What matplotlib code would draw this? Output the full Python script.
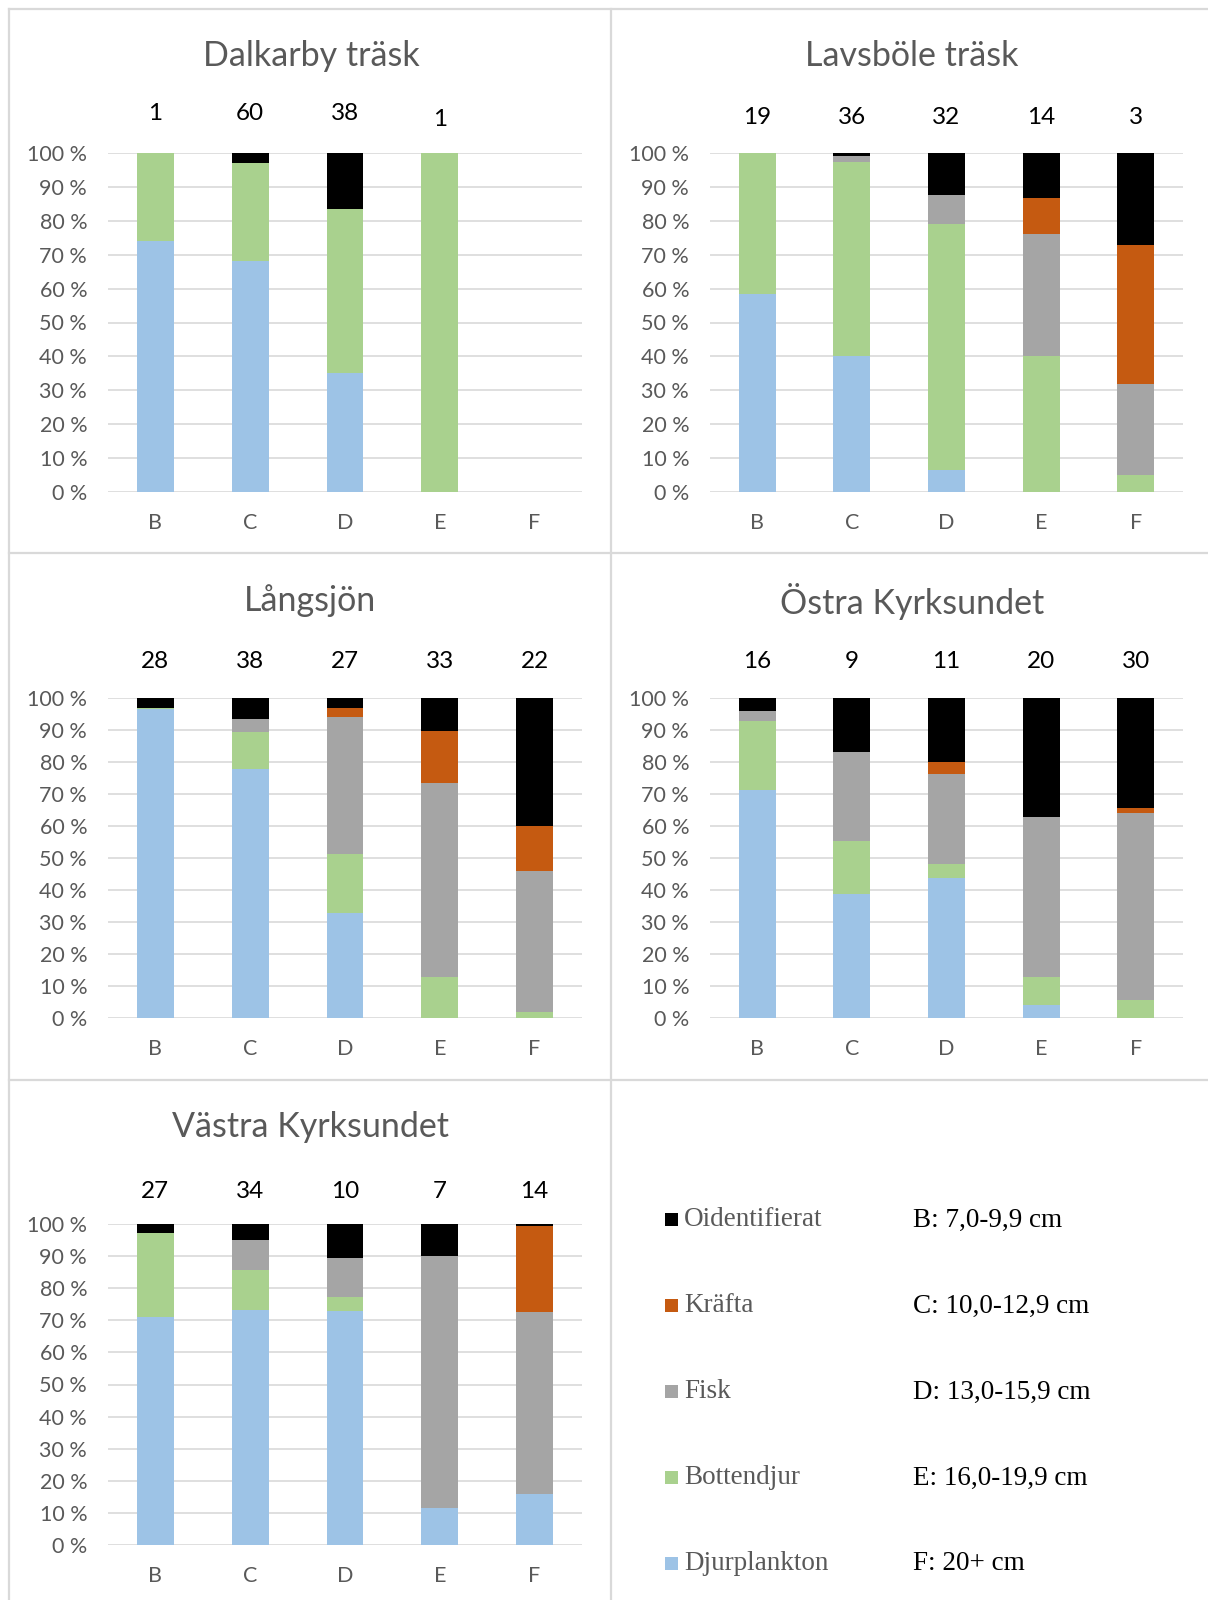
import matplotlib
matplotlib.use("Agg")
import matplotlib.pyplot as plt
from matplotlib.patches import Rectangle
from matplotlib.lines import Line2D
import matplotlib.transforms as mtransforms

# ---------------- data ----------------
categories = ['B', 'C', 'D', 'E', 'F']
series_names = ['Djurplankton', 'Bottendjur', 'Fisk', 'Kräfta', 'Oidentifierat']
legend_order = ['Oidentifierat', 'Kräfta', 'Fisk', 'Bottendjur', 'Djurplankton']
size_labels = ['B: 7,0-9,9 cm', 'C: 10,0-12,9 cm', 'D: 13,0-15,9 cm',
               'E: 16,0-19,9 cm', 'F: 20+ cm']
lake_titles = ['Dalkarby träsk', 'Lavsböle träsk', 'Långsjön',
               'Östra Kyrksundet', 'Västra Kyrksundet']

# Dalkarby träsk (% per size class)
dalkarby_djurplankton = [74.0, 68.0, 35.0, 0.0, 0.0]
dalkarby_bottendjur = [26.0, 29.0, 48.5, 100.0, 0.0]
dalkarby_fisk = [0.0, 0.0, 0.0, 0.0, 0.0]
dalkarby_krafta = [0.0, 0.0, 0.0, 0.0, 0.0]
dalkarby_oid = [0.0, 3.0, 16.5, 0.0, 0.0]
dalkarby_n = [1, 60, 38, 1, None]

# Lavsböle träsk
lavsbole_djurplankton = [58.5, 40.2, 6.5, 0.0, 0.0]
lavsbole_bottendjur = [41.5, 57.1, 72.7, 40.0, 4.9]
lavsbole_fisk = [0.0, 1.7, 8.3, 36.1, 27.1]
lavsbole_krafta = [0.0, 0.0, 0.0, 10.6, 41.0]
lavsbole_oid = [0.0, 1.0, 12.5, 13.3, 27.0]
lavsbole_n = [19, 36, 32, 14, 3]

# Långsjön
langsjon_djurplankton = [96.5, 77.9, 32.7, 0.0, 0.0]
langsjon_bottendjur = [0.4, 11.5, 18.5, 12.9, 1.9]
langsjon_fisk = [0.0, 4.1, 42.8, 60.4, 44.0]
langsjon_krafta = [0.0, 0.0, 2.9, 16.5, 14.1]
langsjon_oid = [3.1, 6.5, 3.1, 10.2, 40.0]
langsjon_n = [28, 38, 27, 33, 22]

# Östra Kyrksundet
ostra_djurplankton = [71.1, 38.6, 43.9, 4.0, 0.0]
ostra_bottendjur = [21.6, 16.7, 4.3, 8.7, 5.6]
ostra_fisk = [3.3, 27.9, 27.9, 50.0, 58.5]
ostra_krafta = [0.0, 0.0, 3.9, 0.0, 1.6]
ostra_oid = [4.0, 16.8, 20.0, 37.3, 34.3]
ostra_n = [16, 9, 11, 20, 30]

# Västra Kyrksundet
vastra_djurplankton = [71.1, 73.2, 73.0, 11.4, 15.8]
vastra_bottendjur = [26.1, 12.5, 4.2, 0.0, 0.0]
vastra_fisk = [0.0, 9.4, 12.1, 78.5, 56.9]
vastra_krafta = [0.0, 0.0, 0.0, 0.0, 26.8]
vastra_oid = [2.8, 4.9, 10.7, 10.1, 0.5]
vastra_n = [27, 34, 10, 7, 14]

lakes = [
    [dalkarby_djurplankton, dalkarby_bottendjur, dalkarby_fisk, dalkarby_krafta, dalkarby_oid],
    [lavsbole_djurplankton, lavsbole_bottendjur, lavsbole_fisk, lavsbole_krafta, lavsbole_oid],
    [langsjon_djurplankton, langsjon_bottendjur, langsjon_fisk, langsjon_krafta, langsjon_oid],
    [ostra_djurplankton, ostra_bottendjur, ostra_fisk, ostra_krafta, ostra_oid],
    [vastra_djurplankton, vastra_bottendjur, vastra_fisk, vastra_krafta, vastra_oid],
]
counts = [dalkarby_n, lavsbole_n, langsjon_n, ostra_n, vastra_n]

# ---------------- style ----------------
colors = {'Djurplankton': '#9DC3E6', 'Bottendjur': '#A9D18E', 'Fisk': '#A5A5A5',
          'Kräfta': '#C55A11', 'Oidentifierat': '#000000'}
sans = ['Lato', 'DejaVu Sans']
serif = ['Liberation Serif', 'DejaVu Serif']
W, H = 1208, 1600

# pixel layout: (left, right, top(100%), bottom(0%), title_y, count_y list, title_cx)
layout = [
    (108, 582, 153, 492, 56, [113, 113, 113, 120, 113], 311),
    (710, 1183, 153, 492, 56, [118] * 5, 912),
    (108, 582, 698, 1018, 601, [662] * 5, 310),
    (710, 1183, 698, 1018, 601, [661] * 5, 912),
    (108, 582, 1224, 1545, 1127, [1191] * 5, 310),
]

fig = plt.figure(figsize=(W / 100, H / 100), dpi=100)
fig.patch.set_facecolor('white')

# panel frame lines
border = '#D9D9D9'
for (x0, y0, x1, y1) in [(9, 9, W, 9), (9, 553, W, 553), (9, 1080, W, 1080),
                         (9, 9, 9, H), (611, 9, 611, H)]:
    fig.add_artist(Line2D([x0 / W, x1 / W], [1 - y0 / H, 1 - y1 / H],
                          color=border, lw=1.6, transform=fig.transFigure))

for k, (data, ns, title) in enumerate(zip(lakes, counts, lake_titles)):
    l, r, t, b, ty, cys, tcx = layout[k]
    ax = fig.add_axes([l / W, 1 - b / H, (r - l) / W, (b - t) / H])
    x = list(range(len(categories)))
    bottom = [0.0] * len(categories)
    for name, vals in zip(series_names, data):
        ax.bar(x, vals, width=0.39, bottom=bottom, color=colors[name],
               linewidth=0, zorder=3)
        bottom = [bb + v for bb, v in zip(bottom, vals)]
    ax.set_xlim(-0.5, len(categories) - 0.5)
    ax.set_ylim(0, 100)
    ax.set_yticks(range(0, 101, 10))
    ax.set_yticklabels([f'{v} %' for v in range(0, 101, 10)])
    ax.set_xticks(x)
    ax.set_xticklabels(categories)
    ax.grid(axis='y', color='#D9D9D9', lw=1.2, zorder=0)
    ax.set_axisbelow(True)
    for s in ax.spines.values():
        s.set_visible(False)
    ax.tick_params(axis='both', length=0, colors='#595959')
    ax.tick_params(axis='y', pad=15, labelsize=15.5)
    ax.tick_params(axis='x', pad=15, labelsize=15.5)
    for lab in ax.get_xticklabels() + ax.get_yticklabels():
        lab.set_fontfamily(sans)
    # sample counts
    trans = mtransforms.blended_transform_factory(ax.transData, ax.transAxes)
    for i, (n, cy) in enumerate(zip(ns, cys)):
        if n is not None:
            ya = 1 + (t - cy) / (b - t)
            ax.text(i, ya, str(n), transform=trans, ha='center', va='center',
                    fontsize=17.5, color='black', family=sans)
    fig.text(tcx / W, 1 - ty / H, title, ha='center', va='center',
             fontsize=24.5, color='#595959', family=sans)

# legend panel
rows_y = [1220, 1306, 1392, 1478, 1564]
for name, lab, yy in zip(legend_order, size_labels, rows_y):
    fig.add_artist(Rectangle((665 / W, 1 - (yy + 6) / H), 13 / W, 13 / H,
                             transform=fig.transFigure, color=colors[name], lw=0))
    fig.text(684 / W, 1 - yy / H, name, ha='left', va='center', fontsize=19.5,
             color='#595959', family=serif)
    fig.text(913 / W, 1 - yy / H, lab, ha='left', va='center', fontsize=19.5,
             color='black', family=serif)

fig.savefig('out.png', dpi=100, facecolor='white')
